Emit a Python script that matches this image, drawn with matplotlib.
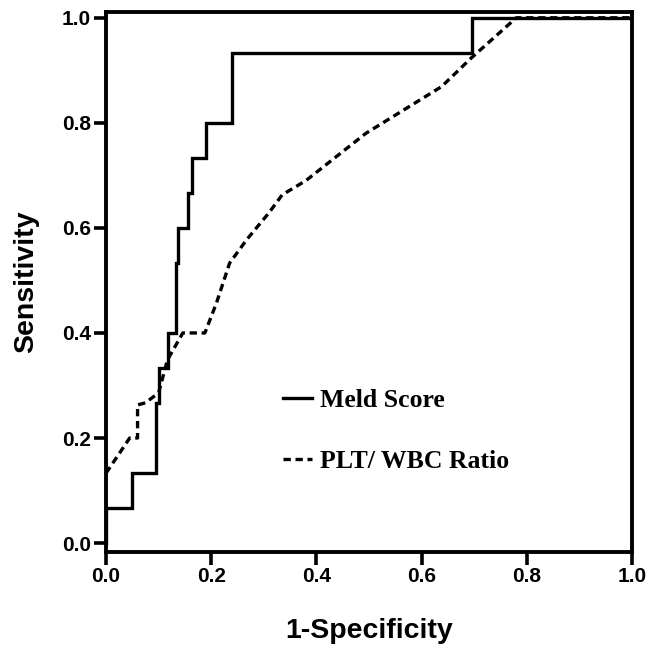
import matplotlib.pyplot as plt
from matplotlib.lines import Line2D

# ROC curve points
meld_fpr = [0.0, 0.0, 0.05, 0.05, 0.095, 0.095, 0.10, 0.10, 0.118, 0.118,
            0.133, 0.133, 0.137, 0.137, 0.155, 0.155, 0.163, 0.163, 0.19, 0.19,
            0.24, 0.24, 0.695, 0.695, 1.0]
meld_tpr = [0.0, 0.067, 0.067, 0.133, 0.133, 0.267, 0.267, 0.333, 0.333, 0.40,
            0.40, 0.533, 0.533, 0.60, 0.60, 0.667, 0.667, 0.733, 0.733, 0.80,
            0.80, 0.933, 0.933, 1.0, 1.0]

plt_fpr = [0.0, 0.045, 0.06, 0.06, 0.075, 0.10, 0.117, 0.146, 0.188, 0.21,
           0.235, 0.267, 0.31, 0.335, 0.38, 0.494, 0.638, 0.695, 0.78, 1.0]
plt_tpr = [0.133, 0.20, 0.20, 0.263, 0.267, 0.286, 0.349, 0.40, 0.40, 0.457,
           0.533, 0.577, 0.629, 0.663, 0.69, 0.78, 0.869, 0.924, 1.0, 1.0]

ticks = [0.0, 0.2, 0.4, 0.6, 0.8, 1.0]
tick_labels = ['0.0', '0.2', '0.4', '0.6', '0.8', '1.0']
series_names = ['Meld Score', 'PLT/ WBC Ratio']

LW = 2.4
DASH = (2.2, 1.4)

fig = plt.figure(figsize=(6.49, 6.5), dpi=100)
ax = fig.add_axes([106 / 649, 1 - 552 / 650, (632 - 106) / 649, (552 - 12) / 650])

ax.plot(meld_fpr, meld_tpr, color='black', lw=LW, solid_joinstyle='miter')
ax.plot(plt_fpr, plt_tpr, color='black', lw=LW, dashes=DASH)

ax.set_xlim(0, 1.0)
ax.set_ylim(-0.017, 1.011)

tick_font = dict(family=['Liberation Sans Narrow', 'Liberation Sans'], weight='bold', size=15)
ax.set_xticks(ticks)
ax.set_xticklabels(tick_labels, fontdict=tick_font)
ax.set_yticks(ticks)
ax.set_yticklabels(tick_labels, fontdict=tick_font)
ax.tick_params(direction='out', length=9, width=2.6, pad=2, color='black')

for sp in ax.spines.values():
    sp.set_linewidth(2.8)

label_font = dict(family=['Liberation Sans', 'DejaVu Sans'], weight='bold', size=20.5)
ax.set_xlabel('1-Specificity', fontdict=label_font, labelpad=23)
ax.set_ylabel('Sensitivity', fontdict=label_font, labelpad=16)

handles = [Line2D([], [], color='black', lw=LW),
           Line2D([], [], color='black', lw=LW, dashes=DASH)]
leg = ax.legend(handles, series_names, frameon=False, loc='upper left',
                bbox_to_anchor=((260 - 106) / 526, 1 - (366 - 12) / 540),
                prop=dict(family=['Liberation Serif', 'DejaVu Serif'], weight='bold', size=18.5),
                handlelength=1.13, handletextpad=0.31, labelspacing=1.47)

fig.savefig('out.png', dpi=100)
